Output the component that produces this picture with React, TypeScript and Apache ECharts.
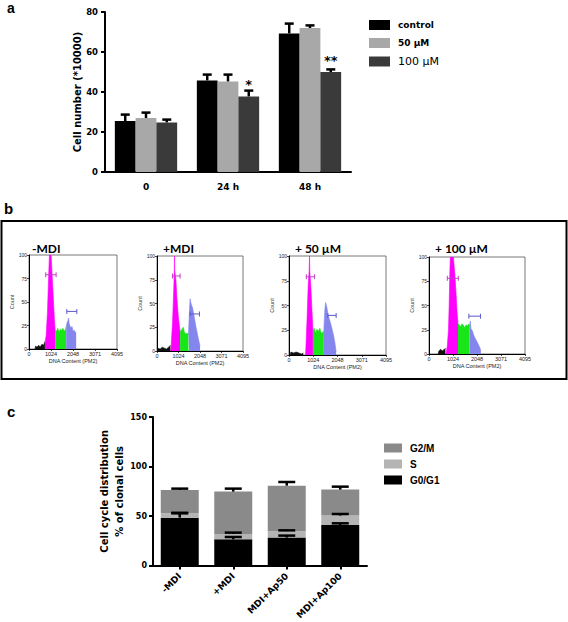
import React, { useEffect, useRef } from "react";
import * as echarts from "echarts";

// ---------- Panel a : cell number ----------
const timeCats = ["0", "24 h", "48 h"];
const namesA = ["control", "50 µM", "100 µM"];
const control = [25.5, 45.8, 69.3];
const controlErr = [3.2, 2.9, 4.9];
const um50 = [27.0, 45.3, 72.0];
const um50Err = [2.7, 3.4, 1.3];
const um100 = [24.8, 37.8, 50.0];
const um100Err = [1.4, 2.9, 1.3];
const sig100 = ["", "*", "**"];
const colorsA = ["#000000", "#a8a8a8", "#3a3a3a"];

// ---------- Panel b : DNA content histograms ----------
const histTitles = ["-MDI", "+MDI", "+ 50 µM", "+ 100 µM"];
const xTicksB = [0, 1024, 2048, 3071, 4095];

const debris1 = [[280, 0], [300, 3], [380, 2], [450, 4], [520, 2], [600, 5], [680, 4], [740, 8]];
const g1Peak1 = [[745, 6], [800, 15], [860, 40], [910, 75], [950, 100], [1030, 100], [1090, 73], [1140, 50], [1185, 30], [1215, 21]];
const sPeak1 = [[1215, 21], [1280, 19], [1340, 22], [1400, 18], [1460, 21], [1520, 20], [1580, 22], [1640, 19], [1700, 21], [1730, 24]];
const g2Peak1 = [[1730, 24], [1770, 28], [1810, 30], [1840, 33], [1870, 27], [1900, 25], [1950, 22], [2000, 24], [2050, 19], [2100, 20], [2150, 18], [2195, 17]];
const brG1_1 = [[778, 79], [1261, 79]];
const brG2_1 = [[1760, 40], [2226, 40]];

const debris2 = [[30, 0], [40, 3], [150, 2], [250, 4], [350, 3], [450, 2], [550, 4], [640, 6]];
const g1Peak2 = [[660, 0], [740, 30], [790, 60], [825, 85], [835, 100], [845, 85], [900, 75], [950, 55], [1020, 35], [1100, 20]];
const sPeak2 = [[1100, 20], [1160, 22], [1250, 25], [1300, 20], [1380, 18], [1440, 19], [1500, 17]];
const g2Peak2 = [[1500, 17], [1530, 35], [1575, 55], [1620, 50], [1700, 45], [1780, 35], [1860, 25], [1950, 15], [2050, 5]];
const brG1_2 = [[740, 79], [1100, 79]];
const brG2_2 = [[1575, 39], [2020, 39]];

const debris3 = [[50, 0], [80, 3], [200, 2], [300, 3], [420, 2], [520, 1], [600, 2]];
const g1Peak3 = [[700, 0], [760, 35], [810, 70], [850, 85], [868, 100], [876, 85], [920, 70], [970, 45], [1010, 25]];
const sPeak3 = [[1010, 25], [1060, 27], [1120, 22], [1180, 26], [1240, 24], [1300, 27], [1360, 22], [1420, 23], [1470, 24]];
const g2Peak3 = [[1470, 24], [1510, 45], [1545, 53], [1600, 48], [1650, 40], [1720, 35], [1800, 28], [1880, 20], [1940, 12], [1990, 3]];
const brG1_3 = [[730, 79], [1080, 79]];
const brG2_3 = [[1640, 40], [1990, 40]];

const debris4 = [[390, 0], [420, 3], [500, 5], [560, 3], [620, 4], [700, 6]];
const g1Peak4 = [[720, 0], [780, 8], [830, 25], [860, 50], [890, 85], [910, 100], [1040, 100], [1110, 80], [1160, 60], [1200, 42], [1236, 32]];
const sPeak4 = [[1236, 32], [1280, 30], [1340, 28], [1400, 31], [1460, 30], [1520, 27], [1580, 30], [1640, 29], [1700, 31], [1730, 28]];
const g2Peak4 = [[1730, 28], [1760, 34], [1790, 26], [1850, 24], [1900, 20], [1950, 17], [2020, 14], [2100, 10], [2180, 6], [2210, 2]];
const brG1_4 = [[780, 78], [1250, 78]];
const brG2_4 = [[1700, 39], [2195, 39]];

const histSets = [
  { debris: debris1, g1: g1Peak1, s: sPeak1, g2: g2Peak1, b1: brG1_1, b2: brG2_1 },
  { debris: debris2, g1: g1Peak2, s: sPeak2, g2: g2Peak2, b1: brG1_2, b2: brG2_2 },
  { debris: debris3, g1: g1Peak3, s: sPeak3, g2: g2Peak3, b1: brG1_3, b2: brG2_3 },
  { debris: debris4, g1: g1Peak4, s: sPeak4, g2: g2Peak4, b1: brG1_4, b2: brG2_4 },
];

// ---------- Panel c : cell cycle distribution ----------
const groupsC = ["-MDI", "+MDI", "MDI+Ap50", "MDI+Ap100"];
const g0g1 = [48.4, 26.6, 28.3, 41.0];
const g0g1Err = [4.4, 2.3, 2.0, 1.7];
const sPhase = [4.4, 5.4, 6.5, 9.5];
const sPhaseErr = [0.5, 1.3, 0.8, 1.6];
const g2m = [23.6, 42.7, 45.9, 26.2];
const g2mErr = [1.3, 3.0, 3.7, 3.0];
const colorsC = { g0: "#000000", s: "#b4b4b4", g2: "#8a8a8a" };

const FONT = "DejaVu Sans";

function errRender(capW: number, lw: number, nSeries: number, gapFrac: number) {
  return (params: any, api: any) => {
    const cat = api.value(0);
    const s = api.value(1);
    const top = api.value(2);
    const err = api.value(3);
    const p0 = api.coord([cat, top]);
    const p1 = api.coord([cat, top + err]);
    const band = api.size([1, 0])[0];
    const bw = (band * (1 - gapFrac)) / nSeries;
    const x = p0[0] + (s - (nSeries - 1) / 2) * bw;
    return {
      type: "group",
      children: [
        { type: "line", shape: { x1: x, y1: p0[1], x2: x, y2: p1[1] }, style: { stroke: "#000", lineWidth: lw } },
        { type: "line", shape: { x1: x - capW / 2, y1: p1[1], x2: x + capW / 2, y2: p1[1] }, style: { stroke: "#000", lineWidth: lw } },
      ],
    };
  };
}

const histGrids = [
  { left: 29, top: 255, width: 88, height: 94 },
  { left: 157, top: 256, width: 86, height: 95 },
  { left: 289, top: 256, width: 97, height: 99 },
  { left: 429, top: 257, width: 96, height: 97 },
];

export default function App() {
  const ref = useRef<HTMLDivElement>(null);

  useEffect(() => {
    document.body.style.margin = "0";
    const chart = echarts.init(ref.current!, null, { renderer: "svg" });

    const grids: any[] = [
      { left: 105, top: 12, width: 246, height: 160 },
      ...histGrids.map((g) => ({ ...g, show: true, borderColor: "#555", borderWidth: 0.8, backgroundColor: "transparent" })),
      { left: 153, top: 417, width: 214, height: 149 },
    ];

    const histX = (i: number) => ({
      type: "value",
      gridIndex: i,
      min: 0,
      max: 4095,
      interval: 1023.75,
      axisLine: { lineStyle: { color: "#000", width: 1 } },
      axisTick: { show: true, length: 2, lineStyle: { color: "#000", width: 0.7 } },
      axisLabel: {
        fontSize: 5.5,
        margin: 2,
        color: "#222",
        fontFamily: "Liberation Sans",
        formatter: (v: number) => {
          const idx = Math.round(v / 1023.75);
          return String(xTicksB[idx] ?? Math.round(v));
        },
      },
      splitLine: { show: false },
      name: "DNA Content (PM2)",
      nameLocation: "middle",
      nameGap: 9,
      nameTextStyle: { fontSize: 5.5, color: "#222", fontFamily: "Liberation Sans" },
    });
    const histY = (i: number) => ({
      type: "value",
      gridIndex: i,
      min: 0,
      max: 100,
      interval: 25,
      axisLine: { show: true, lineStyle: { color: "#000", width: 1 } },
      axisTick: { show: true, length: 2, lineStyle: { color: "#000", width: 0.7 } },
      axisLabel: { fontSize: 5, margin: 2, color: "#222", fontFamily: "Liberation Sans" },
      splitLine: { show: false },
      name: "Count",
      nameLocation: "middle",
      nameGap: 12,
      nameTextStyle: { fontSize: 5.5, color: "#444", fontFamily: "Liberation Sans" },
    });

    const boldTick = { fontFamily: FONT, fontWeight: "bold", color: "#000" };

    const xAxes: any[] = [
      {
        type: "category",
        gridIndex: 0,
        data: timeCats,
        axisLine: { lineStyle: { color: "#000", width: 2 } },
        axisTick: { show: false },
        axisLabel: { ...boldTick, fontSize: 9, margin: 10 },
      },
      histX(1),
      histX(2),
      histX(3),
      histX(4),
      {
        type: "category",
        gridIndex: 5,
        data: groupsC,
        axisLine: { lineStyle: { color: "#000", width: 2 } },
        axisTick: { show: true, alignWithLabel: true, length: 4, lineStyle: { color: "#000", width: 2 } },
        axisLabel: { ...boldTick, fontSize: 9, margin: 9, rotate: 45 },
      },
    ];
    const yAxes: any[] = [
      {
        type: "value",
        gridIndex: 0,
        min: 0,
        max: 80,
        interval: 20,
        axisLine: { show: true, lineStyle: { color: "#000", width: 2 } },
        axisTick: { show: true, length: 4, lineStyle: { color: "#000", width: 2 } },
        axisLabel: { ...boldTick, fontSize: 8.5, margin: 7 },
        splitLine: { show: false },
        name: "Cell number (*10000)",
        nameLocation: "middle",
        nameGap: 23,
        nameTextStyle: { ...boldTick, fontSize: 10 },
      },
      histY(1),
      histY(2),
      histY(3),
      histY(4),
      {
        type: "value",
        gridIndex: 5,
        min: 0,
        max: 150,
        interval: 50,
        axisLine: { show: true, lineStyle: { color: "#000", width: 2 } },
        axisTick: { show: true, length: 4, lineStyle: { color: "#000", width: 2 } },
        axisLabel: { ...boldTick, fontSize: 8, margin: 6 },
        splitLine: { show: false },
        name: "Cell cycle distribution\n% of clonal cells",
        nameLocation: "middle",
        nameGap: 25,
        nameTextStyle: { ...boldTick, fontSize: 10, lineHeight: 14.5 },
      },
    ];

    const seriesA = [control, um50, um100].map((vals, s) => ({
      name: namesA[s],
      type: "bar",
      xAxisIndex: 0,
      yAxisIndex: 0,
      barGap: "0%",
      barCategoryGap: "24%",
      itemStyle: { color: colorsA[s] },
      data:
        s === 2
          ? vals.map((v, i) => ({
              value: v,
              label: sig100[i]
                ? {
                    show: true,
                    position: "top",
                    distance: 5,
                    formatter: sig100[i],
                    fontSize: 13,
                    fontWeight: "bold",
                    fontFamily: FONT,
                    color: "#000",
                  }
                : { show: false },
            }))
          : vals,
    }));

    const errA: number[][] = [];
    [
      [control, controlErr],
      [um50, um50Err],
      [um100, um100Err],
    ].forEach(([vals, errs], s) => vals.forEach((v, i) => errA.push([i, s, v, errs[i]])));

    const histSeries: any[] = [];
    histSets.forEach((h, k) => {
      const idx = k + 1;
      const area = (name: string, data: number[][], color: string) => ({
        name,
        type: "line",
        xAxisIndex: idx,
        yAxisIndex: idx,
        data,
        symbol: "none",
        silent: true,
        lineStyle: { width: 0.6, color },
        areaStyle: { color, opacity: 1 },
      });
      const bracket = (name: string, data: number[][], color: string) => ({
        name,
        type: "line",
        xAxisIndex: idx,
        yAxisIndex: idx,
        data,
        symbol: "rect",
        symbolSize: [1, 5],
        showSymbol: true,
        silent: true,
        lineStyle: { width: 1, color },
        itemStyle: { color },
        z: 4,
      });
      histSeries.push(
        area("debris" + idx, h.debris, "#111111"),
        area("G1 peak " + idx, h.g1, "#ff00ff"),
        area("S peak " + idx, h.s, "#19e619"),
        area("G2 peak " + idx, h.g2, "#8585ee"),
        bracket("G1 marker " + idx, h.b1, "#c040c0"),
        bracket("G2 marker " + idx, h.b2, "#5a5ac8")
      );
    });

    const seriesC = [
      { name: "G0/G1", data: g0g1, color: colorsC.g0 },
      { name: "S", data: sPhase, color: colorsC.s },
      { name: "G2/M", data: g2m, color: colorsC.g2 },
    ].map((d) => ({
      name: d.name,
      type: "bar",
      stack: "cycle",
      xAxisIndex: 5,
      yAxisIndex: 5,
      barCategoryGap: "29%",
      itemStyle: { color: d.color },
      data: d.data,
    }));

    const errC: number[][] = [];
    groupsC.forEach((_, i) => {
      errC.push([i, 0, g0g1[i], g0g1Err[i]]);
      errC.push([i, 0, g0g1[i] + sPhase[i], sPhaseErr[i]]);
      errC.push([i, 0, g0g1[i] + sPhase[i] + g2m[i], g2mErr[i]]);
    });

    const graphics: any[] = [
      { type: "text", x: 7, y: 7.5, style: { text: "a", font: "bold 14px Liberation Sans", fill: "#000", verticalAlign: "middle" } },
      { type: "text", x: 4, y: 208, style: { text: "b", font: "bold 15px Liberation Sans", fill: "#000", verticalAlign: "middle" } },
      { type: "text", x: 7, y: 411, style: { text: "c", font: "bold 15px Liberation Sans", fill: "#000", verticalAlign: "middle" } },
      {
        type: "rect",
        shape: { x: 1.5, y: 221, width: 565, height: 158 },
        style: { fill: "none", stroke: "#000", lineWidth: 2 },
        z: 0,
      },
      ...histTitles.map((t, k) => ({
        type: "text",
        x: [32, 163, 295, 435][k],
        y: 248,
        style: { text: t, font: "bold 12px Lato", fill: "#000", verticalAlign: "middle" },
        z: 5,
      })),
    ];

    chart.setOption({
      animation: false,
      backgroundColor: "#fff",
      grid: grids,
      xAxis: xAxes,
      yAxis: yAxes,
      legend: [
        {
          data: [
            { name: "control" },
            { name: "50 µM" },
            { name: "100 µM", textStyle: { fontSize: 11, fontWeight: "normal" } },
          ],
          orient: "vertical",
          left: 364,
          top: 15,
          itemWidth: 21,
          itemHeight: 10,
          itemGap: 8,
          icon: "rect",
          selectedMode: false,
          textStyle: { fontFamily: FONT, fontWeight: "bold", fontSize: 9, color: "#000", padding: [0, 0, 0, 3] },
        },
        {
          data: ["G2/M", "S", "G0/G1"],
          orient: "vertical",
          left: 379,
          top: 438,
          itemWidth: 18,
          itemHeight: 9,
          itemGap: 6,
          icon: "rect",
          selectedMode: false,
          textStyle: { fontFamily: "Liberation Sans", fontWeight: "bold", fontSize: 10, color: "#000", padding: [0, 0, 0, 3] },
        },
      ],
      graphic: graphics,
      series: [
        ...seriesA,
        {
          name: "errA",
          type: "custom",
          xAxisIndex: 0,
          yAxisIndex: 0,
          data: errA,
          encode: { x: 0, y: 2 },
          renderItem: errRender(9, 2.5, 3, 0.24),
          z: 5,
          silent: true,
        },
        ...histSeries,
        ...seriesC,
        {
          name: "errC",
          type: "custom",
          xAxisIndex: 5,
          yAxisIndex: 5,
          data: errC,
          encode: { x: 0, y: 2 },
          renderItem: errRender(17, 2.5, 1, 0.29),
          z: 5,
          silent: true,
        },
      ],
    });

    return () => chart.dispose();
  }, []);

  return <div ref={ref} style={{ width: 568, height: 622 }} />;
}
